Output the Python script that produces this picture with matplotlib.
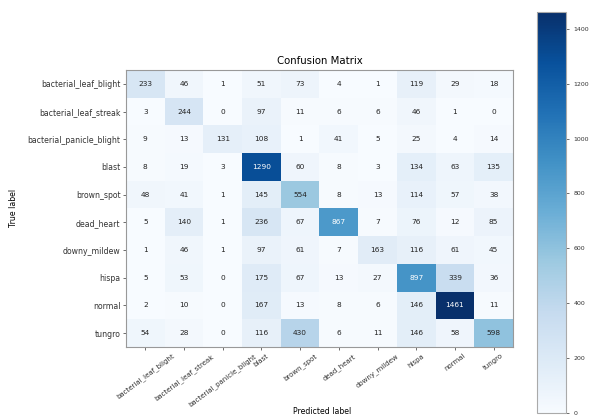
import numpy as np
import matplotlib
matplotlib.use("Agg")
import matplotlib.pyplot as plt

classes = ["bacterial_leaf_blight", "bacterial_leaf_streak", "bacterial_panicle_blight",
           "blast", "brown_spot", "dead_heart", "downy_mildew", "hispa", "normal", "tungro"]

row_blb = [233, 46, 1, 51, 73, 4, 1, 119, 29, 18]
row_bls = [3, 244, 0, 97, 11, 6, 6, 46, 1, 0]
row_bpb = [9, 13, 131, 108, 1, 41, 5, 25, 4, 14]
row_blast = [8, 19, 3, 1290, 60, 8, 3, 134, 63, 135]
row_brown = [48, 41, 1, 145, 554, 8, 13, 114, 57, 38]
row_dead = [5, 140, 1, 236, 67, 867, 7, 76, 12, 85]
row_downy = [1, 46, 1, 97, 61, 7, 163, 116, 61, 45]
row_hispa = [5, 53, 0, 175, 67, 13, 27, 897, 339, 36]
row_normal = [2, 10, 0, 167, 13, 8, 6, 146, 1461, 11]
row_tungro = [54, 28, 0, 116, 430, 6, 11, 146, 58, 598]

cm = np.array([row_blb, row_bls, row_bpb, row_blast, row_brown,
               row_dead, row_downy, row_hispa, row_normal, row_tungro])

fig = plt.figure(figsize=(5.93, 4.17), dpi=100)
W, H = 593, 417
ax = fig.add_axes([126 / W, 1 - 347 / H, (513 - 126) / W, (347 - 70) / H])
cax = fig.add_axes([537 / W, 1 - 413 / H, 29 / W, (413 - 12) / H])

im = ax.imshow(cm, cmap="Blues", aspect="auto", interpolation="nearest")
cb = fig.colorbar(im, cax=cax)
cb.ax.tick_params(labelsize=4.5, length=2, width=0.5, colors="#333333")
cb.outline.set_edgecolor("#aaaaaa")
cb.outline.set_linewidth(0.8)

thresh = cm.max() / 2.0
for i in range(cm.shape[0]):
    for j in range(cm.shape[1]):
        ax.text(j, i, str(cm[i, j]), ha="center", va="center", fontsize=5.3,
                color="white" if cm[i, j] > thresh else "#222222")

ax.set_xticks(range(len(classes)))
ax.set_yticks(range(len(classes)))
ax.set_xticklabels(classes, rotation=37, ha="center", fontsize=5.0)
ax.set_yticklabels(classes, fontsize=5.6)
ax.tick_params(length=2, width=0.5, colors="#333333", pad=2)
for s in ax.spines.values():
    s.set_edgecolor("#999999")
    s.set_linewidth(0.8)
ax.set_title("Confusion Matrix", fontsize=7.3, pad=4)
fig.text(13 / W, 1 - 208 / H, "True label", fontsize=5.6, ha="center", va="center", rotation=90)
fig.text(322 / W, 1 - 411 / H, "Predicted label", fontsize=5.6, ha="center", va="center")

fig.savefig("out.png", dpi=100)
